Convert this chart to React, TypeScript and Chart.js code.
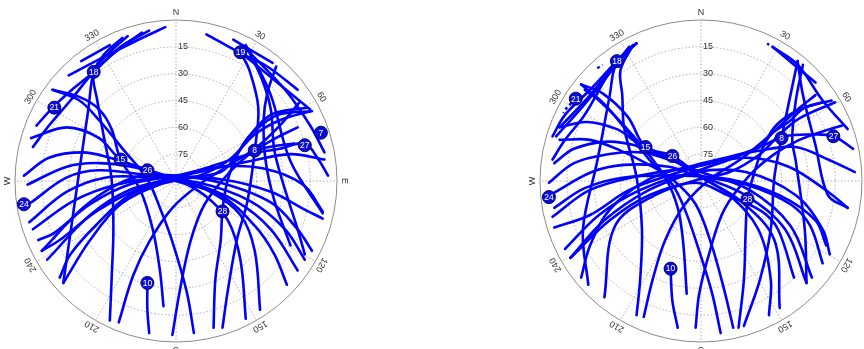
import React, { useEffect, useRef } from 'react';
import { Chart, registerables } from 'chart.js';

Chart.register(...registerables);

type P = [number, number];

// Sky positions in projected zenith-angle degrees: x = east, y = north (90 = horizon)
const ringElevations = [15, 30, 45, 60, 75];
const azimuthLabels = ['N', '30', '60', 'E', '120', '150', 'S', '210', '240', 'W', '300', '330'];

const leftTracks: P[][] = [
  [[-6, 86], [-23, 78], [-43, 68], [-60, 59]],
  [[-15, 84], [-31, 75], [-46, 61], [-57, 52], [-68, 42], [-78, 31]],
  [[-19, 83], [-34, 72], [-46, 61], [-59, 45], [-71, 31], [-80, 19]],
  [[-27, 81], [-37, 72], [-46, 61], [-44, 45], [-40, 23], [-36, 1], [-35, -27], [-36, -55], [-37, -78]],
  [[-30, 80], [-40, 71], [-46, 61], [-49, 40], [-54, 6], [-58, -22], [-63, -57]],
  [[-53, 67], [-37, 76]],
  [[-69, 51], [-54, 47], [-43, 40], [-36, 29], [-31, 12], [-20, -5], [-13, -27], [-9, -50], [-7, -70]],
  [[-81, 24], [-61, 30], [-43, 24], [-31, 12], [-16, 6], [0, 1], [16, -8], [29, -22], [36, -44], [39, -77]],
  [[-85, 3], [-71, 13], [-52, 16], [-37, 13], [-24, 9], [0, 1], [19, -6], [36, -19], [44, -39], [47, -72]],
  [[-83, -2], [-61, 8], [-43, 10], [-20, 7], [0, 0], [25, -8], [44, -25], [55, -41], [62, -58]],
  [[-81, -12], [-61, 2], [-43, 6], [-15, 3], [8, -1], [33, -11], [53, -27], [68, -50]],
  [[-82, -23], [-61, -6], [-39, 2], [-15, 2], [13, -1], [41, -11], [61, -27], [72, -44]],
  [[-80, -27], [-57, -11], [-33, -2], [-6, 2], [25, 1], [53, -6], [72, -16], [82, -21]],
  [[-75, -39], [-52, -15], [-33, -2], [-18, 3], [0, 3], [25, -1], [53, -12], [68, -27], [76, -39]],
  [[73, 41], [53, 37], [40, 24], [34, 15], [25, 5], [0, 1], [-26, -8], [-45, -25], [-59, -41], [-65, -54]],
  [[75, 39], [58, 34], [44, 26], [30, 12], [13, 3], [-9, -2], [-31, -13], [-48, -33], [-63, -57]],
  [[85, 3], [79, 13], [72, 21], [58, 18], [41, 15], [22, 9], [0, 2], [-26, -5], [-48, -19], [-72, -44]],
  [[83, 12], [64, 15], [41, 11], [13, 5], [-15, -2], [-43, -16], [-65, -33], [-75, -39]],
  [[82, -17], [71, -2], [49, 7], [25, 8], [0, 3], [-26, -2], [-48, -13], [-68, -29], [-77, -33]],
  [[-32, -79], [-24, -53], [-15, -34], [-2, -15], [13, -2], [30, 9], [44, 18], [58, 31], [69, 44]],
  [[-2, -86], [2, -62], [8, -34], [16, -13], [30, 5], [41, 15], [54, 23], [68, 30]],
  [[10, -85], [6, -62], [-2, -34], [-9, -15], [-16, 1], [-29, 17], [-43, 34], [-54, 45], [-69, 51]],
  [[76, 39], [57, 37], [43, 27], [35, 16], [29, 1], [26, -16], [25, -33], [22, -55], [21, -82]],
  [[26, -82], [29, -61], [34, -33], [40, -11], [44, 17], [46, 41], [41, 62], [36, 72]],
  [[-16, -57], [-16, -72], [-15, -85]],
  [[17, 82], [35, 72], [51, 64], [68, 51]],
  [[32, 79], [54, 66]],
  [[39, 76], [48, 57], [53, 40], [55, 17], [61, -5], [68, -27], [72, -41]],
  [[41, 73], [53, 48], [64, 11], [82, -18]],
  [[56, 64], [51, 49], [49, 34], [50, 12], [55, -11], [64, -36]],
  [[36, 72], [58, 54], [75, 40]],
  [[38, 75], [61, 51], [75, 31], [83, 16]],
  [[44, 17], [52, 19], [66, 21]],
];
const leftDashed: P[][] = [];
const leftSatIds = ['18', '19', '21', '7', '27', '8', '15', '26', '24', '28', '10'];
const leftSatPos: P[] = [
  [-46, 61], [36, 72], [-68, 41], [81, 27], [72, 20], [44, 17], [-31, 12], [-16, 6], [-85, -13], [26, -17], [-16, -57],
];

const rightTracks: P[][] = [
  [[-36, 77], [-47, 67], [-62, 51], [-76, 37], [-83, 25]],
  [[-36, 77], [-47, 67], [-62, 48], [-79, 30]],
  [[-38, 76], [-48, 64], [-65, 43], [-81, 25]],
  [[-40, 75], [-51, 61], [-65, 37], [-76, 23], [-83, 12]],
  [[-38, 76], [-45, 62], [-44, 48], [-43, 30], [-36, 2], [-33, -27], [-34, -55], [-36, -75]],
  [[-40, 75], [-48, 64], [-51, 48], [-58, 11], [-66, -27], [-63, -58]],
  [[-67, 54], [-55, 49], [-41, 36], [-31, 19], [-16, 14], [-1, 3], [16, -8], [32, -27], [39, -55], [38, -75]],
  [[-79, 30], [-64, 33], [-47, 29], [-38, 23], [-31, 19], [-16, 12], [0, 2], [22, -11], [41, -33], [44, -71]],
  [[-82, 10], [-71, 18], [-52, 22], [-37, 20], [-31, 17], [-16, 12], [0, 3], [25, -8], [47, -27], [59, -57]],
  [[-85, -1], [-71, 10], [-52, 15], [-33, 16], [-18, 12], [0, 5], [27, -5], [50, -25], [62, -54]],
  [[-83, -7], [-61, 5], [-43, 9], [-18, 8], [-2, 3], [25, -2], [50, -13], [61, -25], [68, -46]],
  [[-82, -15], [-65, -4], [-43, 2], [-12, 3], [16, 1], [44, -8], [64, -22], [70, -36]],
  [[-83, -20], [-62, -5], [-34, 3], [-3, 8], [25, 13], [49, 8], [71, -6], [82, -15]],
  [[-76, -38], [-57, -19], [-34, -5], [-3, 5], [25, 5], [53, -8], [68, -27], [72, -41]],
  [[-73, -43], [-51, -22], [-29, -8], [-3, -1], [15, -8], [34, -17], [43, -27], [52, -54]],
  [[73, 45], [58, 41], [49, 33], [40, 27], [34, 20], [25, 16], [-3, 9], [-29, 1], [-51, -16], [-62, -36], [-67, -54]],
  [[68, 44], [53, 39], [41, 30], [34, 17], [29, 2], [26, -10], [25, -27], [24, -55], [21, -82]],
  [[75, 44], [55, 35], [44, 26], [33, 15], [16, 5], [-1, 1], [-26, -8], [-48, -25], [-54, -65]],
  [[85, 18], [74, 25], [61, 26], [47, 25], [33, 19], [16, 12], [-1, 6], [-29, -5], [-54, -22], [-73, -43]],
  [[86, 5], [71, 12], [53, 19], [33, 17], [11, 12], [-12, 5], [-40, -5], [-62, -19], [-82, -26]],
  [[-32, -76], [-27, -55], [-20, -33], [-9, -13], [5, 1], [22, 12], [39, 26], [54, 40], [64, 48]],
  [[-3, -82], [-1, -63], [5, -39], [13, -16], [27, 3], [41, 15], [55, 23], [72, 29], [79, 31]],
  [[11, -85], [6, -62], [-2, -36], [-9, -16], [-16, -2], [-29, 12], [-43, 30], [-54, 43], [-67, 54]],
  [[-17, -49], [-16, -67], [-13, -82]],
  [[-8, -63], [-10, -34], [-13, -15], [-20, 2], [-31, 17], [-43, 31], [-57, 45], [-65, 51]],
  [[24, -81], [33, -55], [39, -27], [41, 2], [45, 24], [50, 48], [54, 67]],
  [[57, 65], [53, 45], [51, 23], [53, 11], [58, -27], [59, -57]],
  [[40, 75], [64, 55]],
  [[40, 75], [54, 65], [68, 45], [82, 29]],
  [[54, 67], [57, 48], [64, 20], [71, -8], [82, -15]],
  [[18, -82], [13, -61], [6, -36], [-3, -13], [-16, 1], [-29, 9], [-45, 17], [-62, 23], [-79, 23]],
];
const rightDashed: P[][] = [
  [[-70, 46], [-75, 41], [-77, 38]],
  [[-58, 63], [-55, 65]],
  [[37, 77], [38, 76]],
];
const rightSatIds = ['18', '21', '8', '27', '15', '26', '24', '28', '10'];
const rightSatPos: P[] = [
  [-47, 67], [-70, 46], [45, 24], [74, 25], [-31, 19], [-16, 14], [-85, -9], [26, -10], [-17, -49],
];

const FONT = '"Liberation Sans", Arial, sans-serif';

type Props = {
  tracks: P[][];
  dashed: P[][];
  satIds: string[];
  satPos: P[];
  left: number;
  width: number;
  padRight: number;
};

function SkyPlot(props: Props) {
  const ref = useRef<HTMLCanvasElement>(null);
  useEffect(() => {
    if (!ref.current) return;
    const toXY = (t: P[]) => t.map(([x, y]) => ({ x, y }));
    const datasets: any[] = [
      {
        data: toXY(props.satPos),
        showLine: false,
        pointRadius: 6.5,
        pointBackgroundColor: '#0c0cd8',
        pointBorderColor: '#00006e',
        pointBorderWidth: 1,
        order: 0,
      },
    ];
    props.tracks.forEach((t) =>
      datasets.push({
        data: toXY(t),
        showLine: true,
        borderColor: '#0000ff',
        borderWidth: 2.6,
        pointRadius: 0,
        tension: 0.35,
        borderCapStyle: 'round',
        borderJoinStyle: 'round',
        order: 1,
      })
    );
    props.dashed.forEach((t) =>
      datasets.push({
        data: toXY(t),
        showLine: true,
        borderColor: '#0000ff',
        borderWidth: 2.4,
        borderDash: [3, 3],
        pointRadius: 0,
        tension: 0.3,
        order: 1,
      })
    );

    const gridPlugin = {
      id: 'skygrid',
      beforeDatasetsDraw(chart: any) {
        const { ctx, scales } = chart;
        const xs = scales.x;
        const ys = scales.y;
        const cx = xs.getPixelForValue(0);
        const cy = ys.getPixelForValue(0);
        const R = xs.getPixelForValue(90) - cx;
        ctx.save();
        ctx.strokeStyle = '#9a9a9a';
        ctx.lineWidth = 0.8;
        ctx.setLineDash([1.5, 2]);
        ringElevations.forEach((el) => {
          const r = (R * (90 - el)) / 90;
          ctx.beginPath();
          ctx.arc(cx, cy, r, 0, Math.PI * 2);
          ctx.stroke();
        });
        azimuthLabels.forEach((_, i) => {
          const a = (i * 30 * Math.PI) / 180;
          ctx.beginPath();
          ctx.moveTo(cx, cy);
          ctx.lineTo(cx + R * Math.sin(a), cy - R * Math.cos(a));
          ctx.stroke();
        });
        ctx.setLineDash([]);
        ctx.strokeStyle = '#8a8a8a';
        ctx.lineWidth = 1;
        ctx.beginPath();
        ctx.arc(cx, cy, R, 0, Math.PI * 2);
        ctx.stroke();

        ctx.fillStyle = '#333';
        ctx.font = `9px ${FONT}`;
        ctx.textAlign = 'left';
        ctx.textBaseline = 'middle';
        ringElevations.forEach((el) => {
          const r = (R * (90 - el)) / 90;
          ctx.fillText(String(el), cx + 2, cy - r);
        });
        ctx.textAlign = 'center';
        azimuthLabels.forEach((lab, i) => {
          const a = (i * 30 * Math.PI) / 180;
          const rr = R + 7;
          ctx.save();
          ctx.translate(cx + rr * Math.sin(a), cy - rr * Math.cos(a));
          ctx.rotate(a);
          ctx.fillText(lab, 0, 0);
          ctx.restore();
        });
        ctx.restore();
      },
      afterDatasetsDraw(chart: any) {
        const { ctx } = chart;
        const meta = chart.getDatasetMeta(0);
        ctx.save();
        ctx.fillStyle = '#ffffff';
        ctx.font = `8.5px ${FONT}`;
        ctx.textAlign = 'center';
        ctx.textBaseline = 'middle';
        meta.data.forEach((pt: any, i: number) => {
          ctx.fillText(props.satIds[i], pt.x, pt.y + 0.5);
        });
        ctx.restore();
      },
    };

    const chart = new Chart(ref.current, {
      type: 'scatter',
      data: { datasets },
      options: {
        animation: false,
        responsive: false,
        maintainAspectRatio: false,
        events: [],
        layout: { autoPadding: false, padding: { left: 15, right: props.padRight, top: 20, bottom: 7 } },
        scales: {
          x: { type: 'linear', min: -90, max: 90, display: false },
          y: { type: 'linear', min: -90, max: 90, display: false },
        },
        plugins: { legend: { display: false }, tooltip: { enabled: false } },
      },
      plugins: [gridPlugin],
    } as any);
    return () => chart.destroy();
  }, []);
  return (
    <canvas
      ref={ref}
      width={props.width}
      height={349}
      style={{ position: 'absolute', left: props.left, top: 0, width: props.width, height: 349 }}
    />
  );
}

export default function App() {
  return (
    <div style={{ position: 'fixed', left: 0, top: 0, width: 864, height: 349, background: '#fff', overflow: 'hidden' }}>
      <SkyPlot tracks={leftTracks} dashed={leftDashed} satIds={leftSatIds} satPos={leftSatPos} left={0} width={352} padRight={15} />
      <SkyPlot tracks={rightTracks} dashed={rightDashed} satIds={rightSatIds} satPos={rightSatPos} left={525} width={339} padRight={2} />
    </div>
  );
}
